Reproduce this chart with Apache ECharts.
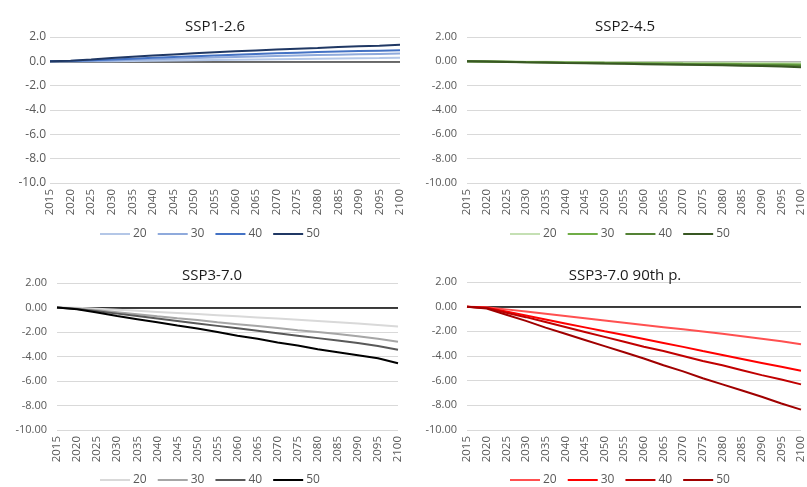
<!DOCTYPE html>
<html>
<head>
<meta charset="utf-8">
<script src="https://cdn.jsdelivr.net/npm/echarts@6/dist/echarts.min.js"></script>
<style>
html,body{margin:0;padding:0;background:#fff;}
#c{width:807px;height:487px;}
</style>
</head>
<body>
<div id="c"></div>
<script>
const years = [2015,2020,2025,2030,2035,2040,2045,2050,2055,2060,2065,2070,2075,2080,2085,2090,2095,2100];
const seriesNames = ['20','30','40','50'];
const panelTitles = ['SSP1-2.6','SSP2-4.5','SSP3-7.0','SSP3-7.0 90th p.'];

const ssp126_20 = [0,0,0,0.01,0.03,0.05,0.07,0.09,0.11,0.13,0.15,0.17,0.19,0.21,0.23,0.25,0.27,0.30];
const ssp126_30 = [0,0,0.03,0.07,0.12,0.17,0.22,0.27,0.31,0.36,0.40,0.44,0.48,0.52,0.55,0.58,0.61,0.64];
const ssp126_40 = [0,0.02,0.08,0.15,0.22,0.29,0.36,0.42,0.48,0.54,0.60,0.66,0.71,0.76,0.80,0.84,0.88,0.92];
const ssp126_50 = [0,0.05,0.15,0.27,0.38,0.48,0.57,0.66,0.74,0.82,0.90,0.97,1.04,1.10,1.17,1.23,1.29,1.37];

const ssp245_20 = [0,-0.01,-0.02,-0.03,-0.04,-0.05,-0.06,-0.07,-0.08,-0.09,-0.10,-0.11,-0.11,-0.12,-0.13,-0.14,-0.15,-0.16];
const ssp245_30 = [0,-0.01,-0.03,-0.05,-0.07,-0.09,-0.10,-0.12,-0.13,-0.15,-0.16,-0.18,-0.19,-0.20,-0.22,-0.23,-0.24,-0.26];
const ssp245_40 = [0,-0.02,-0.04,-0.07,-0.09,-0.11,-0.13,-0.15,-0.17,-0.19,-0.21,-0.23,-0.25,-0.27,-0.29,-0.31,-0.33,-0.36];
const ssp245_50 = [0,-0.02,-0.05,-0.08,-0.10,-0.13,-0.15,-0.18,-0.20,-0.23,-0.26,-0.28,-0.30,-0.33,-0.36,-0.39,-0.42,-0.48];

const ssp370_20 = [0,-0.03,-0.10,-0.18,-0.27,-0.36,-0.45,-0.54,-0.63,-0.72,-0.81,-0.90,-1.00,-1.10,-1.20,-1.30,-1.42,-1.55];
const ssp370_30 = [0,-0.08,-0.22,-0.38,-0.55,-0.72,-0.88,-1.03,-1.20,-1.36,-1.52,-1.68,-1.85,-2.00,-2.17,-2.35,-2.55,-2.80];
const ssp370_40 = [0,-0.12,-0.30,-0.50,-0.70,-0.90,-1.10,-1.30,-1.50,-1.70,-1.90,-2.10,-2.30,-2.50,-2.70,-2.90,-3.15,-3.45];
const ssp370_50 = [0,-0.15,-0.40,-0.70,-0.95,-1.20,-1.47,-1.72,-2.00,-2.30,-2.55,-2.85,-3.10,-3.40,-3.65,-3.90,-4.15,-4.55];

const ssp370p90_20 = [0,-0.05,-0.22,-0.40,-0.58,-0.76,-0.94,-1.12,-1.30,-1.48,-1.66,-1.84,-2.02,-2.20,-2.40,-2.60,-2.80,-3.05];
const ssp370p90_30 = [0,-0.08,-0.40,-0.72,-1.04,-1.36,-1.68,-2.00,-2.30,-2.62,-2.94,-3.26,-3.60,-3.92,-4.24,-4.56,-4.88,-5.20];
const ssp370p90_40 = [0,-0.10,-0.50,-0.85,-1.25,-1.65,-2.05,-2.45,-2.85,-3.25,-3.60,-4.00,-4.40,-4.75,-5.15,-5.55,-5.90,-6.30];
const ssp370p90_50 = [0,-0.15,-0.65,-1.15,-1.70,-2.20,-2.70,-3.20,-3.70,-4.20,-4.75,-5.25,-5.80,-6.30,-6.80,-7.30,-7.85,-8.35];

const yTicksMin = -10, yTicksMax = 2, yTicksStep = 2;

const panelData = [
  [ssp126_20, ssp126_30, ssp126_40, ssp126_50],
  [ssp245_20, ssp245_30, ssp245_40, ssp245_50],
  [ssp370_20, ssp370_30, ssp370_40, ssp370_50],
  [ssp370p90_20, ssp370p90_30, ssp370p90_40, ssp370p90_50]
];

// styling (kept separate from data)
const panelColors = [
  ['#b4c7e7','#8faadc','#4472c4','#203864'],
  ['#c5e0b4','#70ad47','#548235','#385723'],
  ['#d9d9d9','#a6a6a6','#595959','#000000'],
  ['#ff5050','#ff0000','#c00000','#a00000']
];
const zeroColors = ['#404040','#a6a6a6','#000000','#000000'];
const yDecimals = [1,2,2,2];
const yFont = [12,11,11,11];
const grids = [
  {left:50, top:37, width:350, height:146},
  {left:467, top:37, width:342, height:146},
  {left:57, top:283, width:341, height:147},
  {left:467, top:282, width:342, height:148}
];
const yLabelMargin = [4,10,10,10];
const titlePos = [{x:210,y:14},{x:620,y:14},{x:207,y:263},{x:620,y:263}];
const legendPos = [{x:100,y:228},{x:510,y:228},{x:100,y:474},{x:510,y:474}];

const FONT = '"Open Sans", "Liberation Sans", sans-serif';
const option = {
  animation:false,
  backgroundColor:'#ffffff',
  title: panelTitles.map((t,i)=>({
    text:t, left:titlePos[i].x, top:titlePos[i].y, textAlign:'center',
    textStyle:{fontFamily:FONT, fontSize:15, fontWeight:'normal', color:'#1a1a1a'}
  })),
  grid: grids.map(g=>Object.assign({containLabel:false}, g)),
  legend: panelTitles.map((t,i)=>({
    data: seriesNames.map(n=>({name:n+'|'+i, icon:'rect'})),
    formatter: name=>name.split('|')[0],
    left: legendPos[i].x, top: legendPos[i].y, padding:0,
    itemWidth:30, itemHeight:2, itemGap:11,
    textStyle:{fontFamily:FONT, fontSize:12, color:'#595959', padding:[0,0,0,-2]},
    selectedMode:false
  })),
  xAxis: grids.map((g,i)=>({
    type:'value', gridIndex:i, min:2015, max:2100, interval:5,
    axisLine:{show:false}, axisTick:{show:false}, splitLine:{show:false},
    axisLabel:{rotate:90, fontFamily:FONT, fontSize:11.5, color:'#595959', margin:6,
      formatter: v=>String(v)}
  })),
  yAxis: grids.map((g,i)=>({
    type:'value', gridIndex:i, min:yTicksMin, max:yTicksMax, interval:yTicksStep,
    axisLine:{show:false}, axisTick:{show:false},
    splitLine:{lineStyle:{color:'#d9d9d9', width:1}},
    axisLabel:{fontFamily:FONT, fontSize:yFont[i], color:'#595959', margin:yLabelMargin[i],
      formatter: v=>v.toFixed(yDecimals[i])}
  })),
  series: []
};

panelData.forEach((arrs,i)=>{
  arrs.forEach((vals,k)=>{
    const s = {
      type:'line', name: seriesNames[k]+'|'+i, xAxisIndex:i, yAxisIndex:i,
      data: years.map((y,j)=>[y, vals[j]]),
      symbol:'none', showSymbol:false,
      lineStyle:{width:2, color:panelColors[i][k]},
      itemStyle:{color:panelColors[i][k]},
      z: 3
    };
    if(k===0){
      s.markLine = {
        silent:true, symbol:['none','none'], label:{show:false},
        lineStyle:{color:zeroColors[i], width:1.5, type:'solid'},
        data:[{yAxis:0}], z:2
      };
    }
    option.series.push(s);
  });
});

const chart = echarts.init(document.getElementById('c'), null, {renderer:'canvas'});
chart.setOption(option);
</script>
</body>
</html>
